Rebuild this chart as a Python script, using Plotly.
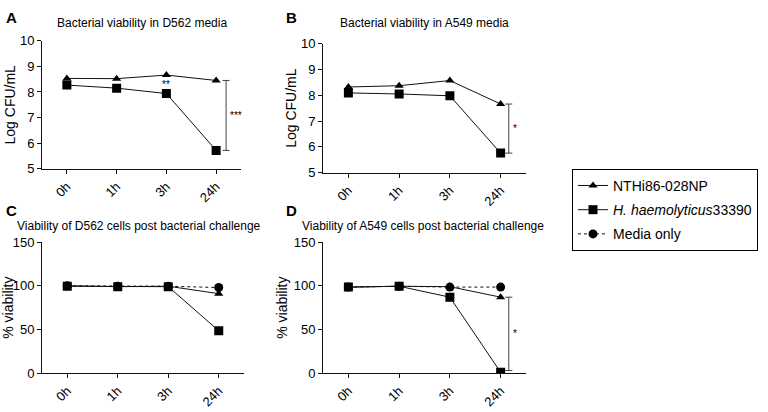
import plotly.graph_objects as go
from plotly.subplots import make_subplots

# 数据
time_points = ['0h', '1h', '3h', '24h']

# A: D562 培养基中细菌活力 (Log CFU/mL)
a_nthi = [8.53, 8.52, 8.66, 8.45]
a_hh = [8.27, 8.15, 7.94, 5.72]

# B: A549 培养基中细菌活力
b_nthi = [8.32, 8.37, 8.57, 7.66]
b_hh = [8.09, 8.05, 7.98, 5.76]

# C: D562 细胞活力 (%)
c_nthi = [100, 99, 99.5, 91]
c_hh = [99.5, 99, 99, 48.5]
c_media = [100, 99.5, 99.5, 98]

# D: A549 细胞活力 (%)
d_nthi = [98.5, 99.5, 99, 87]
d_hh = [98.5, 99.5, 87, 1]
d_media = [98.5, 99.5, 98.5, 98.5]

series_names = ['NTHi86-028NP', '<i>H. haemolyticus</i>33390', 'Media only']

FONT = 'Liberation Sans, Arial, sans-serif'
INK = '#111111'
W, H = 768, 412


def px_x(p):
    return p / W


def px_y(p):
    return 1 - p / H


fig = make_subplots(rows=2, cols=2)

panels = [
    (1, 1, [a_nthi, a_hh, None]),
    (1, 2, [b_nthi, b_hh, None]),
    (2, 1, [c_nthi, c_hh, c_media]),
    (2, 2, [d_nthi, d_hh, d_media]),
]

symbols = ['triangle-up', 'square', 'circle']
sizes = [8, 9, 9]
dashes = ['solid', 'solid', 'dot']
draw_order = [2, 0, 1]

for row, col, data in panels:
    for k in draw_order:
        vals = data[k]
        if vals is None:
            continue
        fig.add_trace(go.Scatter(
            x=time_points,
            y=vals,
            mode='lines+markers',
            name=series_names[k],
            legendgroup=str(k),
            legendrank=k + 1,
            showlegend=(row == 2 and col == 1),
            line=dict(color=INK, width=1, dash=dashes[k]),
            marker=dict(symbol=symbols[k], size=sizes[k], color='black'),
            hoverinfo='x+y'
        ), row=row, col=col)

# 坐标轴位置 (像素 -> paper)
x_domains = {
    1: [px_x(42), px_x(241)],
    2: [px_x(323), px_x(526)],
    3: [px_x(42), px_x(244)],
    4: [px_x(323), px_x(526)],
}
y_domains = {
    1: [px_y(168), px_y(35)],
    2: [px_y(172), px_y(38)],
    3: [px_y(380), px_y(244)],
    4: [px_y(380), px_y(244)],
}
y_ranges = {1: [5, 10], 2: [5, 10], 3: [0, 150], 4: [0, 150]}
y_dticks = {1: 1, 2: 1, 3: 50, 4: 50}
y_titles = {1: 'Log CFU/mL', 2: 'Log CFU/mL', 3: '% viability', 4: '% viability'}
y_standoff = {1: 1, 2: 1, 3: 2, 4: 2}

for i in range(1, 5):
    sx = '' if i == 1 else str(i)
    fig.layout['xaxis' + sx].update(
        domain=x_domains[i],
        range=[-0.5, 3.5],
        type='category',
        showline=True, linecolor=INK, linewidth=1,
        ticks='outside', ticklen=4, tickcolor=INK,
        tickangle=-45,
        tickfont=dict(family=FONT, size=13, color='black'),
        showgrid=False, zeroline=False, fixedrange=True,
    )
    fig.layout['yaxis' + sx].update(
        domain=y_domains[i],
        range=y_ranges[i],
        dtick=y_dticks[i],
        showline=True, linecolor=INK, linewidth=1,
        ticks='outside', ticklen=4, tickcolor=INK,
        tickfont=dict(family=FONT, size=13, color='black'),
        title=dict(text=y_titles[i], font=dict(family=FONT, size=14, color='black'),
                   standoff=y_standoff[i]),
        showgrid=False, zeroline=False, fixedrange=True,
    )

# 统计学标注括号
brackets = [
    ('x', 'y', a_nthi[3], a_hh[3], '***', 3.2),
    ('x2', 'y2', b_nthi[3], b_hh[3], '*', 3.16),
    ('x4', 'y4', d_nthi[3], d_hh[3] + 2, '*', 3.16),
]
for xr, yr, top, bottom, star, xpos in brackets:
    col_b = '#444444'
    fig.add_shape(type='line', xref=xr, yref=yr, x0=xpos, x1=xpos, y0=bottom, y1=top,
                  line=dict(color=col_b, width=1))
    for yv in (top, bottom):
        fig.add_shape(type='line', xref=xr, yref=yr, x0=xpos - 0.07, x1=xpos + 0.07, y0=yv, y1=yv,
                      line=dict(color=col_b, width=1))
    fig.add_annotation(x=xpos + 0.04, y=(top + bottom) / 2, xref=xr, yref=yr, text=star,
                       showarrow=False, xanchor='left',
                       font=dict(family=FONT, size=10, color='black'))

# 3h处的星号
fig.add_annotation(x=2, y=8.3, xref='x', yref='y', text='**', showarrow=False,
                   font=dict(family=FONT, size=10, color='black'))
fig.add_annotation(x=2, y=93, xref='x4', yref='y4', text='**', showarrow=False,
                   font=dict(family=FONT, size=10, color='black'))

# 子图标题
titles = [
    ('Bacterial viability in D562 media', (42 + 241) / 2, 17),
    ('Bacterial viability in A549 media', (323 + 526) / 2, 17),
    ('Viability of D562 cells post bacterial challenge', 139, 227),
    ('Viability of A549 cells post bacterial challenge', 423, 227),
]
for text, cx, cy in titles:
    fig.add_annotation(x=px_x(cx), y=px_y(cy), xref='paper', yref='paper', text=text,
                       showarrow=False, xanchor='center', yanchor='middle',
                       font=dict(family=FONT, size=12, color='black'))

# 面板字母
letters = [('A', 4, 11), ('B', 284, 11), ('C', 4, 211), ('D', 284, 211)]
for text, lx, ly in letters:
    fig.add_annotation(x=px_x(lx), y=px_y(ly), xref='paper', yref='paper', text='<b>%s</b>' % text,
                       showarrow=False, xanchor='left', yanchor='middle',
                       font=dict(family=FONT, size=15, color='black'))

fig.update_layout(
    width=W, height=H,
    margin=dict(l=0, r=0, t=0, b=0),
    plot_bgcolor='white', paper_bgcolor='white',
    font=dict(family=FONT, color='black'),
    legend=dict(
        x=px_x(572), y=px_y(168), xanchor='left', yanchor='top',
        bordercolor='black', borderwidth=1,
        font=dict(family=FONT, size=14, color='black'),
        tracegroupgap=3,
        bgcolor='white',
    ),
)

# 去掉页面默认边距，使图正好填满窗口
fig.write_html('out.html',
               config={'displayModeBar': False},
               post_script="document.body.style.margin='0';document.body.style.overflow='hidden';")
